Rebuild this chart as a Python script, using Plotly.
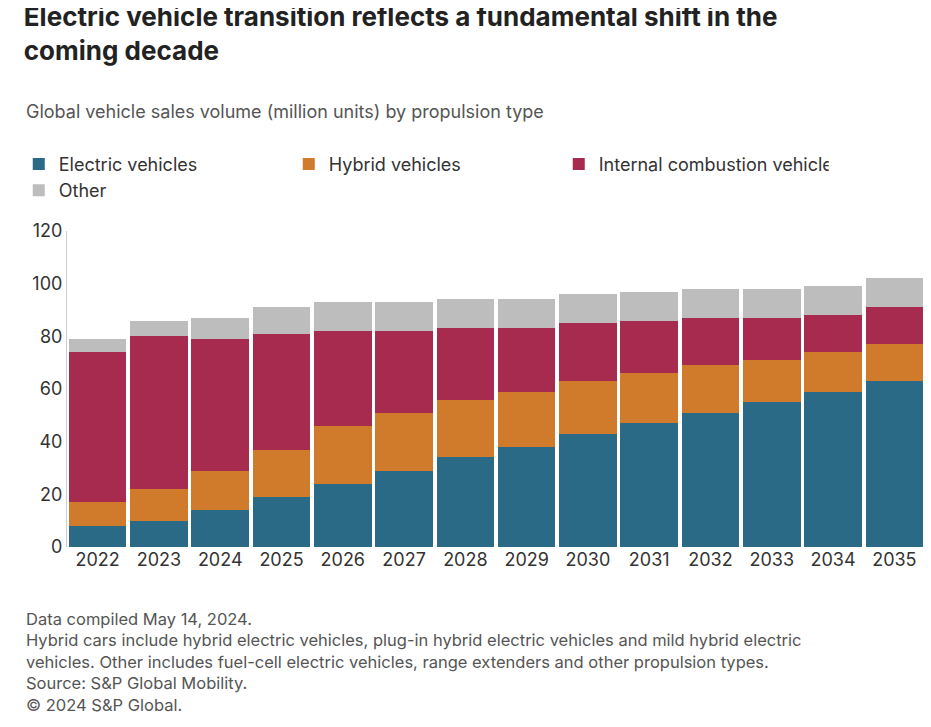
import plotly.graph_objects as go

years = [str(y) for y in range(2022, 2036)]
ev_top = [8, 10, 14, 19, 24, 29, 34, 38, 43, 47, 51, 55, 59, 63]
hyb_top = [17, 22, 29, 37, 46, 51, 56, 59, 63, 66, 69, 71, 74, 77]
ice_top = [74, 80, 79, 81, 82, 82, 83, 83, 85, 86, 87, 87, 88, 91]
oth_top = [79, 86, 87, 91, 93, 93, 94, 94, 96, 97, 98, 98, 99, 102]

ev = ev_top
hyb = [h - e for h, e in zip(hyb_top, ev_top)]
ice = [i - h for i, h in zip(ice_top, hyb_top)]
oth = [o - i for o, i in zip(oth_top, ice_top)]

fig = go.Figure()
for name, vals, col in [("Electric vehicles", ev, "#2b6a87"),
                        ("Hybrid vehicles", hyb, "#d07b2c"),
                        ("Internal combustion vehicles", ice, "#a72b4f"),
                        ("Other", oth, "#bdbdbd")]:
    fig.add_bar(x=years, y=vals, name=name, marker_color=col, marker_line_width=0)

fig.update_layout(
    barmode="stack", bargap=0.06, width=931, height=727,
    paper_bgcolor="white", plot_bgcolor="white",
    font=dict(family="Inter, Roboto, sans-serif", color="#333", size=18),
    margin=dict(l=58, r=14, t=223, b=188),
    title=dict(text="<b>Electric vehicle transition reflects a fundamental shift in the<br>coming decade</b>",
               x=0.017, xanchor="left", yref="container", y=0.975, yanchor="top",
               font=dict(size=26, color="#222")),
    legend=dict(orientation="h", x=-0.055, y=1.27, xanchor="left", yanchor="top",
                font=dict(size=18), traceorder="normal", entrywidth=225, itemwidth=30),
    xaxis=dict(showline=False, ticks="", tickfont=dict(size=18)),
    yaxis=dict(range=[0, 120], dtick=20, showgrid=False, showline=True, linecolor="#ccc",
               ticks="", tickfont=dict(size=18), zeroline=False),
)
fig.add_annotation(text="Global vehicle sales volume (million units) by propulsion type",
                   xref="paper", yref="paper", x=-0.05, y=1.377, xanchor="left", yanchor="middle",
                   showarrow=False, font=dict(size=18, color="#555"))
fig.add_annotation(text="Data compiled May 14, 2024.<br>Hybrid cars include hybrid electric vehicles, plug-in hybrid electric vehicles and mild hybrid electric<br>vehicles. Other includes fuel-cell electric vehicles, range extenders and other propulsion types.<br>Source: S&P Global Mobility.<br>© 2024 S&P Global.",
                   xref="paper", yref="paper", x=-0.05, y=-0.19, xanchor="left", yanchor="top",
                   align="left", showarrow=False, font=dict(size=16.5, color="#555"))
fig.write_html("out.html")
